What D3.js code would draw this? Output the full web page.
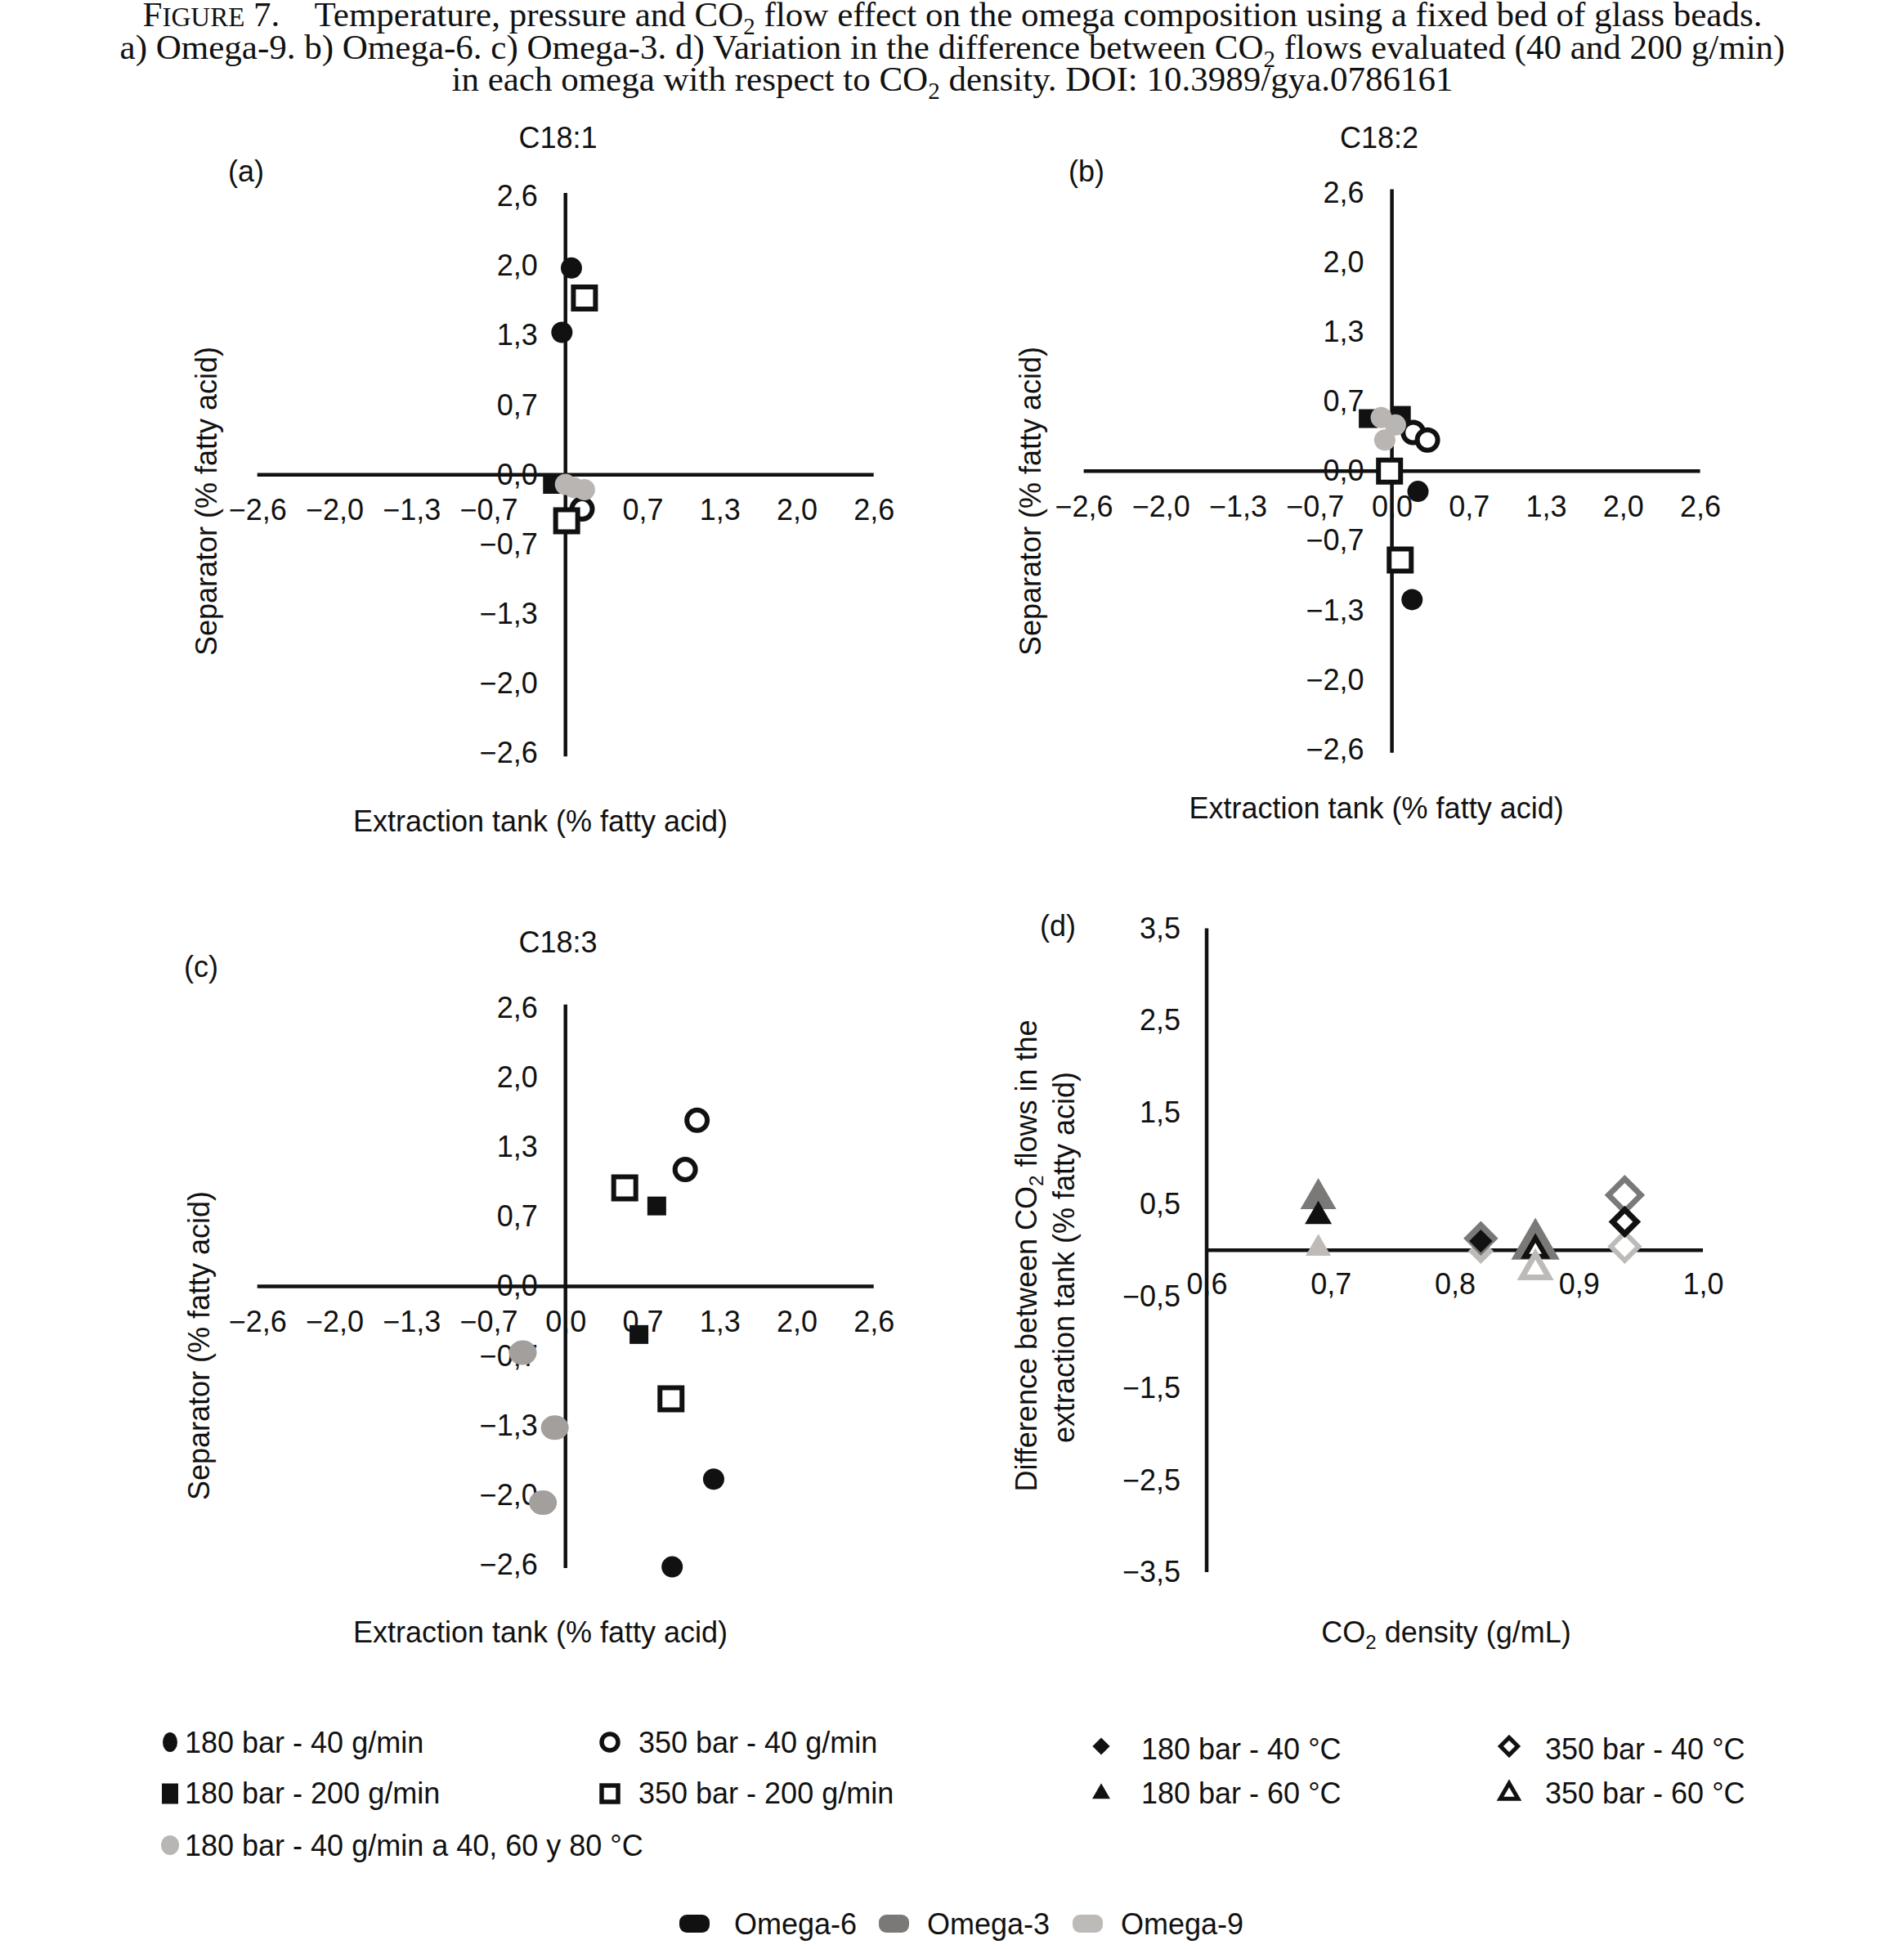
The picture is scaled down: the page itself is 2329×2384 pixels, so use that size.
<!DOCTYPE html>
<html>
<head>
<meta charset="utf-8">
<script src="https://cdn.jsdelivr.net/npm/d3@7"></script>
<style>
  body { margin: 0; background: #fff; }
  svg { display: block; }
</style>
</head>
<body>
<svg id="chart" width="2329" height="2384"></svg>
<script>
// ================= DATA =================
const panelTitles = ["C18:1", "C18:2", "C18:3"];
const panelLetters = ["(a)", "(b)", "(c)", "(d)"];
const scatterXTitle = "Extraction tank (% fatty acid)";
const scatterYTitle = "Separator (% fatty acid)";
const scatterTickValues = [-2.6, -1.95, -1.3, -0.65, 0, 0.65, 1.3, 1.95, 2.6];
const scatterTickLabels = ["\u22122,6", "\u22122,0", "\u22121,3", "\u22120,7", "0,0", "0,7", "1,3", "2,0", "2,6"];
const conditionLabels = ["180 bar - 40 g/min", "180 bar - 200 g/min", "180 bar - 40 g/min a 40, 60 y 80 \u00B0C", "350 bar - 40 g/min", "350 bar - 200 g/min"];

// [extraction tank, separator]  (% fatty acid)
// (a) C18:1 / Omega-9
const c181_180bar_40 = [[0.05, 1.93], [-0.03, 1.33]];
const c181_180bar_200 = [[-0.11, -0.09]];
const c181_180bar_40_temps = [[0.00, -0.09], [0.07, -0.12], [0.16, -0.14]];
const c181_350bar_40 = [[0.14, -0.32]];
const c181_350bar_200 = [[0.16, 1.65], [0.01, -0.43]];
// (b) C18:2 / Omega-6
const c182_180bar_40 = [[0.22, -0.19], [0.17, -1.20]];
const c182_180bar_200 = [[-0.20, 0.49], [0.08, 0.52]];
const c182_180bar_40_temps = [[-0.09, 0.50], [0.03, 0.43], [-0.06, 0.29]];
const c182_350bar_40 = [[0.18, 0.36], [0.30, 0.29]];
const c182_350bar_200 = [[-0.02, 0.00], [0.07, -0.83]];
// (c) C18:3 / Omega-3
const c183_180bar_40 = [[1.25, -1.80], [0.90, -2.62]];
const c183_180bar_200 = [[0.77, 0.75], [0.62, -0.45]];
const c183_180bar_40_temps = [[-0.36, -0.62], [-0.09, -1.32], [-0.19, -2.02]];
const c183_350bar_40 = [[1.11, 1.55], [1.01, 1.09]];
const c183_350bar_200 = [[0.50, 0.92], [0.89, -1.05]];

// (d) difference between CO2 flows vs CO2 density
const dConditionLabels = ["180 bar - 40 \u00B0C", "180 bar - 60 \u00B0C", "350 bar - 40 \u00B0C", "350 bar - 60 \u00B0C"];
const dDensity = [0.821, 0.69, 0.937, 0.865];
const omegaNames = ["Omega-6", "Omega-3", "Omega-9"];
const diffOmega6 = [0.10, 0.37, 0.31, 0.00];
const diffOmega3 = [0.13, 0.56, 0.60, 0.05];
const diffOmega9 = [-0.01, 0.02, 0.04, -0.21];
const densityTicks = [0.6, 0.7, 0.8, 0.9, 1.0];
const densityTickLabels = ["0,6", "0,7", "0,8", "0,9", "1,0"];
const diffTicks = [-3.5, -2.5, -1.5, -0.5, 0.5, 1.5, 2.5, 3.5];
const diffTickLabels = ["\u22123,5", "\u22122,5", "\u22121,5", "\u22120,5", "0,5", "1,5", "2,5", "3,5"];

// ================= DRAWING =================
const svg = d3.select("#chart");
const SANS = "'Liberation Sans', Arial, Helvetica, sans-serif";
const SERIF = "'Liberation Serif', 'Times New Roman', serif";
const INK = "#111111";
const FS = 36;

svg.append("rect").attr("width", 2329).attr("height", 2384).attr("fill", "#fff");

function txt(g, x, y, s, o = {}) {
  return g.append("text").attr("x", x).attr("y", y)
    .attr("font-family", o.family || SANS).attr("font-size", o.size || FS)
    .attr("fill", INK).attr("text-anchor", o.anchor || "middle")
    .attr("transform", o.rotate ? `rotate(-90,${x},${y})` : null)
    .text(s);
}

// ---- caption ----
const captionLines = [
  [{t: "F"}, {t: "IGURE", sc: true}, {t: " 7.    Temperature, pressure and CO"}, {t: "2", sub: true}, {t: " flow effect on the omega composition using a fixed bed of glass beads."}],
  [{t: "a) Omega-9. b) Omega-6. c) Omega-3. d) Variation in the difference between CO"}, {t: "2", sub: true}, {t: " flows evaluated (40 and 200 g/min)"}],
  [{t: "in each omega with respect to CO"}, {t: "2", sub: true}, {t: " density. DOI: 10.3989/gya.0786161"}]
];
const capBase = [32, 72, 111];
captionLines.forEach((line, li) => {
  const t = svg.append("text").attr("x", 1165).attr("y", capBase[li])
    .attr("font-family", SERIF).attr("font-size", 43).attr("fill", INK)
    .attr("text-anchor", "middle").style("white-space", "pre");
  let shifted = false;
  line.forEach(seg => {
    const sp = t.append("tspan").text(seg.t);
    if (seg.sc) sp.attr("font-size", 33);
    if (seg.sub) { sp.attr("font-size", 29).attr("dy", 10); shifted = true; }
    else if (shifted) { sp.attr("dy", -10); shifted = false; }
  });
});

// ---- marker helpers ----
function drawMarker(g, shape, cx, cy, st) {
  let el;
  if (shape === "circle") {
    el = g.append("ellipse").attr("cx", cx).attr("cy", cy)
      .attr("rx", st.rx || st.r).attr("ry", st.ry || st.r);
  } else {
    const type = shape === "triangle" ? d3.symbolTriangle : d3.symbolSquare;
    const side = st.side;
    const area = shape === "triangle" ? Math.sqrt(3) / 4 * side * side : side * side;
    el = g.append("path").attr("d", d3.symbol(type, area)())
      .attr("transform", `translate(${cx},${cy})` + (shape === "diamond" ? " rotate(45)" : ""));
  }
  el.attr("fill", st.fill).attr("stroke", st.stroke || "none")
    .attr("stroke-width", st.sw || 0).attr("stroke-linejoin", "miter");
  return el;
}

// ---- scatter panels (a)-(c) ----
const KX = 145, KY = 131;
function scatterPanel(p) {
  const g = svg.append("g");
  const x = d3.scaleLinear().domain([-2.6, 2.6]).range([p.cx - 2.6 * KX, p.cx + 2.6 * KX]);
  const y = d3.scaleLinear().domain([-2.6, 2.6]).range([p.cy + 2.6 * KY, p.cy - 2.6 * KY]);

  const gx = g.append("g").attr("transform", `translate(0,${y(0)})`)
    .call(d3.axisBottom(x).tickValues(scatterTickValues)
      .tickFormat((d, i) => (p.hideXZero && d === 0) ? "" : scatterTickLabels[i])
      .tickSize(0).tickPadding(30));
  const gy = g.append("g").attr("transform", `translate(${x(0)},0)`)
    .call(d3.axisLeft(y).tickValues(scatterTickValues)
      .tickFormat((d, i) => scatterTickLabels[i]).tickSize(0).tickPadding(34));
  [gx, gy].forEach(a => {
    a.attr("font-family", SANS).attr("font-size", FS);
    a.select(".domain").remove();
    a.selectAll("text").attr("fill", INK);
  });
  // axis lines crossing at zero
  g.append("line").attr("x1", x(-2.6)).attr("x2", x(2.6)).attr("y1", y(0)).attr("y2", y(0))
    .attr("stroke", INK).attr("stroke-width", 4.5);
  g.append("line").attr("x1", x(0)).attr("x2", x(0)).attr("y1", y(2.6) - 4).attr("y2", y(-2.6) + 4)
    .attr("stroke", INK).attr("stroke-width", 4.5);

  txt(g, p.titleX, p.titleY, p.title);
  txt(g, p.letterX, p.letterY, p.letter);
  txt(g, p.yTitleX, p.yTitleY, scatterYTitle, {rotate: true});
  txt(g, p.xTitleX, p.xTitleY, scatterXTitle);

  const styles = [
    {shape: "circle", fill: INK, r: 13},
    {shape: "square", fill: INK, side: 23},
    {shape: "circle", fill: p.grey, rx: p.greyR[0], ry: p.greyR[1]},
    {shape: "circle", fill: "#fff", stroke: INK, sw: 6, r: 12.5},
    {shape: "square", fill: "#fff", stroke: INK, sw: 6, side: 27}
  ];
  const order = [1, 0, 3, 4, 2];
  order.forEach(si => {
    const st = styles[si];
    p.series[si].forEach(d => drawMarker(g, st.shape, x(d[0]), y(d[1]), st));
  });
}

scatterPanel({cx: 691.7, cy: 580.7, title: panelTitles[0], titleX: 682.6, titleY: 181,
  letter: panelLetters[0], letterX: 301, letterY: 222, yTitleX: 265, yTitleY: 613,
  xTitleX: 661, xTitleY: 1017, grey: "#b8b5b2", greyR: [13, 13], hideXZero: true,
  series: [c181_180bar_40, c181_180bar_200, c181_180bar_40_temps, c181_350bar_40, c181_350bar_200]});
scatterPanel({cx: 1702.6, cy: 576.2, title: panelTitles[1], titleX: 1687, titleY: 181,
  letter: panelLetters[1], letterX: 1329, letterY: 222, yTitleX: 1273, yTitleY: 613,
  xTitleX: 1683.6, xTitleY: 1001, grey: "#b8b5b2", greyR: [13, 13],
  series: [c182_180bar_40, c182_180bar_200, c182_180bar_40_temps, c182_350bar_40, c182_350bar_200]});
scatterPanel({cx: 691.7, cy: 1573.4, title: panelTitles[2], titleX: 682.6, titleY: 1165,
  letter: panelLetters[2], letterX: 246, letterY: 1195, yTitleX: 256, yTitleY: 1646,
  xTitleX: 661, xTitleY: 2009, grey: "#a29f9c", greyR: [17, 15],
  series: [c183_180bar_40, c183_180bar_200, c183_180bar_40_temps, c183_350bar_40, c183_350bar_200]});

// ---- panel (d) ----
(function () {
  const g = svg.append("g");
  const x = d3.scaleLinear().domain([0.6, 1.0]).range([1476, 2083]);
  const y = d3.scaleLinear().domain([-3.5, 3.5]).range([1923, 1135.6]);
  const gx = g.append("g").attr("transform", `translate(0,${y(0)})`)
    .call(d3.axisBottom(x).tickValues(densityTicks)
      .tickFormat((d, i) => densityTickLabels[i]).tickSize(0).tickPadding(28));
  const gy = g.append("g").attr("transform", `translate(${x(0.6)},0)`)
    .call(d3.axisLeft(y).tickValues(diffTicks)
      .tickFormat((d, i) => diffTickLabels[i]).tickSize(0).tickPadding(32));
  [gx, gy].forEach(a => {
    a.attr("font-family", SANS).attr("font-size", FS);
    a.select(".domain").remove();
    a.selectAll("text").attr("fill", INK);
  });
  g.append("line").attr("x1", x(0.6)).attr("x2", x(1.0)).attr("y1", y(0)).attr("y2", y(0))
    .attr("stroke", INK).attr("stroke-width", 4.5);
  g.append("line").attr("x1", x(0.6)).attr("x2", x(0.6)).attr("y1", y(3.5)).attr("y2", y(-3.5))
    .attr("stroke", INK).attr("stroke-width", 4.5);

  txt(g, 1294, 1145, panelLetters[3]);
  const yt1 = g.append("text").attr("x", 1268).attr("y", 1536).attr("font-family", SANS)
    .attr("font-size", FS).attr("fill", INK).attr("text-anchor", "middle")
    .attr("transform", "rotate(-90,1268,1536)");
  yt1.append("tspan").text("Difference between CO");
  yt1.append("tspan").text("2").attr("font-size", 24).attr("dy", 8);
  yt1.append("tspan").text(" flows in the").attr("dy", -8);
  txt(g, 1314, 1538, "extraction tank (% fatty acid)", {rotate: true});
  const xt = g.append("text").attr("x", 1769).attr("y", 2009).attr("font-family", SANS)
    .attr("font-size", FS).attr("fill", INK).attr("text-anchor", "middle");
  xt.append("tspan").text("CO");
  xt.append("tspan").text("2").attr("font-size", 24).attr("dy", 8);
  xt.append("tspan").text(" density (g/mL)").attr("dy", -8);

  const omegaColor = {"Omega-6": "#111111", "Omega-3": "#7b7977", "Omega-9": "#bdbab7"};
  const omegaValues = {"Omega-6": diffOmega6, "Omega-3": diffOmega3, "Omega-9": diffOmega9};
  const condStyle = [
    {shape: "diamond", filled: true, side: {"Omega-6": 20, "Omega-3": 30, "Omega-9": 22}, order: ["Omega-9", "Omega-3", "Omega-6"]},
    {shape: "triangle", filled: true, side: {"Omega-6": 33, "Omega-3": 44, "Omega-9": 31}, order: ["Omega-9", "Omega-3", "Omega-6"]},
    {shape: "diamond", filled: false, side: {"Omega-6": 21, "Omega-3": 28, "Omega-9": 24}, sw: {"Omega-6": 7, "Omega-3": 7, "Omega-9": 6}, order: ["Omega-9", "Omega-3", "Omega-6"]},
    {shape: "triangle", filled: false, side: {"Omega-6": 26, "Omega-3": 42, "Omega-9": 33}, sw: {"Omega-6": 6, "Omega-3": 10, "Omega-9": 7}, order: ["Omega-3", "Omega-6", "Omega-9"]}
  ];
  condStyle.forEach((cs, ci) => {
    cs.order.forEach(om => {
      const col = omegaColor[om];
      const st = cs.filled ? {fill: col, side: cs.side[om]}
        : {fill: "#fff", stroke: col, sw: cs.sw[om], side: cs.side[om]};
      drawMarker(g, cs.shape, x(dDensity[ci]), y(omegaValues[om][ci]), st);
    });
  });
})();

// ---- legends ----
(function () {
  const g = svg.append("g");
  const leftPos = [[208, 2131, 226, 2144], [208, 2194, 226, 2206], [208, 2257, 226, 2270], [746, 2131, 781, 2144], [746, 2194, 781, 2206]];
  const legStyles = [
    {shape: "circle", fill: INK, rx: 9, ry: 12},
    {shape: "rect", fill: INK, w: 20, h: 25},
    {shape: "circle", fill: "#b8b5b2", rx: 11, ry: 12},
    {shape: "circle", fill: "#fff", stroke: INK, sw: 5.5, r: 10},
    {shape: "square", fill: "#fff", stroke: INK, sw: 5.5, side: 20}
  ];
  conditionLabels.forEach((lab, i) => {
    const p = leftPos[i], st = legStyles[i];
    if (st.shape === "rect") {
      g.append("rect").attr("x", p[0] - st.w / 2).attr("y", p[1] - st.h / 2)
        .attr("width", st.w).attr("height", st.h).attr("fill", st.fill);
    } else drawMarker(g, st.shape, p[0], p[1], st);
    txt(g, p[2], p[3], lab, {anchor: "start"});
  });
  const rightPos = [[1347, 2136, 1396, 2152], [1347, 2194, 1396, 2206], [1846, 2136, 1890, 2152], [1846, 2194, 1890, 2206]];
  const rStyles = [
    {shape: "diamond", fill: INK, side: 15},
    {shape: "triangle", fill: INK, side: 22},
    {shape: "diamond", fill: "#fff", stroke: INK, sw: 5, side: 15},
    {shape: "triangle", fill: "#fff", stroke: INK, sw: 5, side: 22}
  ];
  dConditionLabels.forEach((lab, i) => {
    const p = rightPos[i];
    drawMarker(g, rStyles[i].shape, p[0], p[1], rStyles[i]);
    txt(g, p[2], p[3], lab, {anchor: "start"});
  });
  const omegaCols = ["#111111", "#7b7977", "#bdbab7"];
  const omegaRectX = [831, 1075, 1312];
  const omegaTextX = [898, 1134, 1371];
  omegaNames.forEach((nm, i) => {
    g.append("rect").attr("x", omegaRectX[i]).attr("y", 2342).attr("width", 37).attr("height", 22)
      .attr("rx", 9).attr("fill", omegaCols[i]);
    txt(g, omegaTextX[i], 2366, nm, {anchor: "start"});
  });
})();
</script>
</body>
</html>
